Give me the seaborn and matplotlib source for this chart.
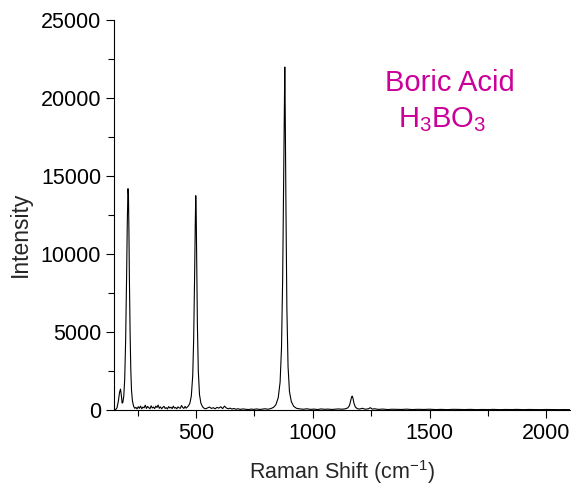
import matplotlib
matplotlib.use("Agg")
import matplotlib.pyplot as plt
import seaborn as sns
import pandas as pd
from matplotlib.ticker import MultipleLocator

# Raman spectrum of boric acid
raman_shift = [
    155, 162, 168, 173, 177, 181, 184, 187, 191, 195, 199, 203, 206, 209, 211, 213,
    215, 218, 221, 224, 228, 233, 238, 243, 248, 253, 258, 263, 268, 273, 278, 283,
    288, 293, 298, 303, 308, 313, 318, 323, 328, 333, 338, 343, 348, 353, 358, 363,
    368, 373, 378, 383, 388, 393, 398, 403, 408, 413, 418, 423, 428, 433, 438, 443,
    448, 453, 458, 463, 468, 474, 480, 486, 490, 494, 497, 499, 501, 503, 506, 510,
    515, 521, 528, 535, 542, 550, 558, 566, 574, 582, 590, 598, 606, 614, 622, 630,
    638, 646, 654, 662, 670, 680, 690, 700, 712, 724, 736, 748, 760, 772, 784, 796,
    808, 820, 832, 842, 852, 860, 866, 871, 875, 878, 880, 882, 885, 889, 894, 900,
    908, 918, 930, 945, 960, 975, 990, 1005, 1020, 1035, 1050, 1065, 1080, 1095, 1110,
    1125, 1140, 1150, 1157, 1162, 1166, 1169, 1172, 1176, 1182, 1190, 1200, 1212,
    1225, 1238, 1246, 1254, 1265, 1280, 1300, 1320, 1340, 1360, 1380, 1400, 1425,
    1450, 1475, 1500, 1525, 1550, 1575, 1600, 1625, 1650, 1675, 1700, 1725, 1750,
    1775, 1800, 1825, 1850, 1875, 1900, 1925, 1950, 1975, 2000, 2025, 2050, 2075, 2100,
]
intensity = [
    20, 150, 600, 1150, 1350, 900, 450, 500, 900, 2000, 4500, 8500, 12000, 14200, 13800, 11500,
    8500, 5000, 2600, 1300, 600, 250, 120, 180, 80, 220, 120, 260, 90, 200, 150, 320,
    110, 240, 160, 90, 280, 140, 200, 100, 260, 170, 330, 120, 210, 90, 180, 250,
    110, 160, 80, 230, 140, 190, 100, 260, 130, 170, 90, 210, 150, 120, 300, 180,
    110, 240, 130, 200, 280, 450, 900, 2200, 4500, 8500, 12000, 13750, 12500, 9500, 5500, 2500,
    1000, 450, 220, 120, 90, 150, 200, 110, 160, 90, 180, 130, 220, 100, 260, 140,
    90, 130, 70, 110, 60, 90, 50, 80, 60, 40, 70, 50, 80, 45, 65, 90,
    60, 100, 180, 350, 800, 1800, 4000, 8500, 14500, 19500, 22000, 19000, 13000, 6500, 2800, 1200,
    550, 250, 120, 80, 60, 90, 50, 70, 40, 80, 55, 70, 45, 60, 80,
    60, 90, 150, 300, 600, 850, 900, 750, 450, 200, 100, 70, 120,
    60, 90, 160, 70, 90, 50, 70, 40, 60, 50, 45, 65, 40,
    55, 45, 60, 40, 50, 35, 55, 45, 40, 50, 35, 45, 40,
    50, 35, 45, 40, 50, 35, 45, 40, 35, 45, 40, 35, 40, 35,
]

df = pd.DataFrame({"shift": raman_shift, "intensity": intensity})

sns.set_style("ticks")
plt.rcParams["font.family"] = ["Liberation Sans", "DejaVu Sans"]
plt.rcParams["mathtext.fontset"] = "custom"
plt.rcParams["mathtext.rm"] = "Liberation Sans"
plt.rcParams["mathtext.it"] = "Liberation Sans"

fig = plt.figure(figsize=(5.71, 4.93), dpi=100)
ax = fig.add_axes([0.2, 0.168, 0.798, 0.791])

sns.lineplot(data=df, x="shift", y="intensity", color="black", linewidth=0.8,
             sort=False, estimator=None, ax=ax)

ax.set_xlim(150, 2100)
ax.set_ylim(0, 25000)
ax.xaxis.set_major_locator(MultipleLocator(500))
ax.xaxis.set_minor_locator(MultipleLocator(250))
ax.yaxis.set_major_locator(MultipleLocator(5000))
ax.yaxis.set_minor_locator(MultipleLocator(2500))
ax.tick_params(which="both", direction="out", width=0.8, colors="black", labelsize=15.5)
ax.tick_params(which="major", length=6)
ax.tick_params(which="minor", length=4)

sns.despine(ax=ax)
for s in ["left", "bottom"]:
    ax.spines[s].set_linewidth(0.8)
    ax.spines[s].set_color("black")

ax.set_xlabel("Raman Shift (cm$^{\\mathrm{-1}}$)", fontsize=15.5, labelpad=10)
ax.set_ylabel("Intensity", fontsize=16.5)
ax.yaxis.set_label_coords(-0.18, 0.45)

ax.text(0.737, 0.84, "Boric Acid", transform=ax.transAxes, color="#CC0099",
        fontsize=21, ha="center", va="center")
ax.text(0.72, 0.745, "H$_\\mathrm{3}$BO$_\\mathrm{3}$", transform=ax.transAxes, color="#CC0099",
        fontsize=21, ha="center", va="center")

fig.savefig("out.png", dpi=100)
